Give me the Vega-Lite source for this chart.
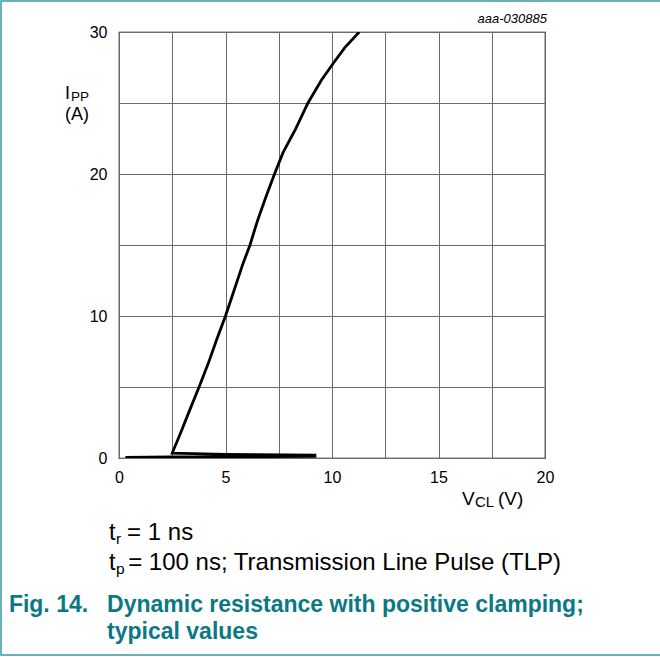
{
  "$schema": "https://vega.github.io/schema/vega-lite/v6.json",
  "width": 426,
  "height": 426,
  "autosize": {"type": "none"},
  "padding": {"left": 119, "top": 32, "right": 115, "bottom": 199},
  "background": "white",
  "data": {"values": [{}]},
  "config": {
    "font": "Liberation Sans",
    "view": {"stroke": "black", "strokeWidth": 1.2},
    "axis": {"domain": false, "ticks": false, "grid": true, "gridColor": "#6a6a6a", "gridWidth": 1, "gridOpacity": 1, "labelFont": "Liberation Sans", "labelFontSize": 16, "labelColor": "black", "title": null}
  },
  "layer": [
    {
      "data": {"values": [
        {"i": 0, "v": 0.3, "a": 0.05},
        {"i": 1, "v": 2.5, "a": 0.08},
        {"i": 2, "v": 5.0, "a": 0.08},
        {"i": 3, "v": 9.2, "a": 0.12},
        {"i": 4, "v": 9.2, "a": 0.2},
        {"i": 5, "v": 5.0, "a": 0.25},
        {"i": 6, "v": 2.5, "a": 0.35},
        {"i": 7, "v": 2.9, "a": 1.8},
        {"i": 8, "v": 3.3, "a": 3.3},
        {"i": 9, "v": 3.76, "a": 5.0},
        {"i": 10, "v": 4.2, "a": 6.7},
        {"i": 11, "v": 4.6, "a": 8.4},
        {"i": 12, "v": 5.0, "a": 10.0},
        {"i": 13, "v": 5.4, "a": 11.8},
        {"i": 14, "v": 5.8, "a": 13.6},
        {"i": 15, "v": 6.15, "a": 15.0},
        {"i": 16, "v": 6.5, "a": 16.7},
        {"i": 17, "v": 6.9, "a": 18.4},
        {"i": 18, "v": 7.3, "a": 20.0},
        {"i": 19, "v": 7.7, "a": 21.5},
        {"i": 20, "v": 8.3, "a": 23.2},
        {"i": 21, "v": 8.87, "a": 25.0},
        {"i": 22, "v": 9.5, "a": 26.6},
        {"i": 23, "v": 10.06, "a": 27.8},
        {"i": 24, "v": 10.6, "a": 28.9},
        {"i": 25, "v": 11.28, "a": 30.0}
      ]},
      "mark": {"type": "line", "color": "black", "strokeWidth": 2.8, "clip": true},
      "encoding": {
        "x": {"field": "v", "type": "quantitative", "scale": {"domain": [0, 20], "nice": false, "zero": false},
          "axis": {"values": [0, 2.5, 5, 7.5, 10, 12.5, 15, 17.5, 20], "labelExpr": "datum.value % 5 == 0 ? datum.label : ''", "labelPadding": 11, "labelFlush": false}},
        "y": {"field": "a", "type": "quantitative", "scale": {"domain": [0, 30], "nice": false, "zero": false},
          "axis": {"values": [0, 5, 10, 15, 20, 25, 30], "labelExpr": "datum.value % 10 == 0 ? datum.label : ''", "labelPadding": 12, "labelFlush": false}},
        "order": {"field": "i", "type": "quantitative"}
      }
    },
    {"mark": {"type": "text", "text": "aaa-030885", "fontStyle": "italic", "fontSize": 13, "align": "right", "baseline": "middle", "clip": false},
     "encoding": {"x": {"datum": 20.09}, "y": {"datum": 30.92}}},
    {"mark": {"type": "text", "text": "I", "fontSize": 18, "align": "left", "baseline": "alphabetic"},
     "encoding": {"x": {"datum": -2.535}, "y": {"datum": 25.28}}},
    {"mark": {"type": "text", "text": "PP", "fontSize": 13.5, "align": "left", "baseline": "alphabetic"},
     "encoding": {"x": {"datum": -2.254}, "y": {"datum": 25.14}}},
    {"mark": {"type": "text", "text": "(A)", "fontSize": 18, "align": "left", "baseline": "middle"},
     "encoding": {"x": {"datum": -2.535}, "y": {"datum": 24.18}}},
    {"mark": {"type": "text", "text": "V", "fontSize": 19, "align": "left", "baseline": "alphabetic"},
     "encoding": {"x": {"datum": 16.1}, "y": {"datum": -3.31}}},
    {"mark": {"type": "text", "text": "CL", "fontSize": 15, "align": "left", "baseline": "alphabetic"},
     "encoding": {"x": {"datum": 16.71}, "y": {"datum": -3.45}}},
    {"mark": {"type": "text", "text": "(V)", "fontSize": 19, "align": "left", "baseline": "alphabetic"},
     "encoding": {"x": {"datum": 17.79}, "y": {"datum": -3.31}}},
    {"mark": {"type": "text", "text": "t", "fontSize": 23.5, "align": "left", "baseline": "middle"},
     "encoding": {"x": {"datum": -0.47}, "y": {"datum": -5.28}}},
    {"mark": {"type": "text", "text": "r", "fontSize": 15.5, "align": "left", "baseline": "middle"},
     "encoding": {"x": {"datum": -0.14}, "y": {"datum": -5.7}}},
    {"mark": {"type": "text", "text": "= 1 ns", "fontSize": 24, "align": "left", "baseline": "middle"},
     "encoding": {"x": {"datum": 0.38}, "y": {"datum": -5.28}}},
    {"mark": {"type": "text", "text": "t", "fontSize": 23.5, "align": "left", "baseline": "middle"},
     "encoding": {"x": {"datum": -0.47}, "y": {"datum": -7.39}}},
    {"mark": {"type": "text", "text": "p", "fontSize": 15.5, "align": "left", "baseline": "middle"},
     "encoding": {"x": {"datum": -0.14}, "y": {"datum": -7.81}}},
    {"mark": {"type": "text", "text": "= 100 ns; Transmission Line Pulse (TLP)", "fontSize": 24, "align": "left", "baseline": "middle"},
     "encoding": {"x": {"datum": 0.43}, "y": {"datum": -7.39}}},
    {"mark": {"type": "text", "text": "Fig. 14.", "fontSize": 23, "fontWeight": "bold", "color": "#0b7883", "align": "left", "baseline": "middle"},
     "encoding": {"x": {"datum": -5.17}, "y": {"datum": -10.35}}},
    {"mark": {"type": "text", "text": "Dynamic resistance with positive clamping;", "fontSize": 23, "fontWeight": "bold", "color": "#0b7883", "align": "left", "baseline": "middle"},
     "encoding": {"x": {"datum": -0.56}, "y": {"datum": -10.35}}},
    {"mark": {"type": "text", "text": "typical values", "fontSize": 23, "fontWeight": "bold", "color": "#0b7883", "align": "left", "baseline": "middle"},
     "encoding": {"x": {"datum": -0.56}, "y": {"datum": -12.25}}},
    {"mark": {"type": "rect", "fill": null, "fillOpacity": 0, "stroke": "#3a9aa5", "strokeWidth": 1.5, "clip": false},
     "encoding": {"x": {"datum": -5.54}, "x2": {"datum": 25.49}, "y": {"datum": 32.18}, "y2": {"datum": -13.87}}}
  ]
}
